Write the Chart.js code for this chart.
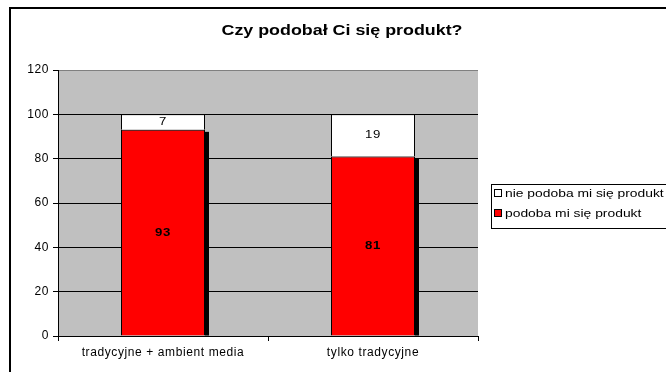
<!DOCTYPE html>
<html>
<head>
<meta charset="utf-8">
<script src="https://cdn.jsdelivr.net/npm/chart.js@4/dist/chart.umd.min.js"></script>
<style>
  html, body { margin: 0; padding: 0; background: #fff; }
  #wrap { width: 666px; height: 372px; position: relative; }
</style>
</head>
<body>
<div id="wrap"><canvas id="chart" width="666" height="372"></canvas></div>
<script>
// data
const categories = ['tradycyjne + ambient media', 'tylko tradycyjne'];
const likes = [93, 81];
const dislikes = [7, 19];
const yTicks = [0, 20, 40, 60, 80, 100, 120];
const titleText = 'Czy podobał Ci się produkt?';

const FONT = 'Arial, "Liberation Sans", sans-serif';

// Excel draws its text a bit wider, so spread the letters a little
const spacing = {
    id: 'spacing',
    beforeLayout(chart) { chart.ctx.letterSpacing = '0.6px'; },
    beforeDraw(chart) { chart.ctx.letterSpacing = '0.6px'; }
};

// text squeezed wider, like the Excel picture
function wideText(ctx, text, x, y, sx) {
    ctx.save();
    ctx.translate(x, y);
    ctx.scale(sx, 1);
    ctx.fillText(text, 0, 0);
    ctx.restore();
}

// frame, grey plot area, title, legend
const decor = {
    id: 'decor',
    beforeDraw(chart) {
        const { ctx, chartArea: a } = chart;
        ctx.save();
        ctx.fillStyle = '#fff';
        ctx.fillRect(0, 0, chart.width, chart.height);
        ctx.strokeStyle = '#000';
        ctx.lineWidth = 2;
        ctx.strokeRect(10, 8, 700, 400);
        ctx.fillStyle = '#c0c0c0';
        ctx.fillRect(a.left, a.top, a.right - a.left, a.bottom - a.top);
        ctx.restore();
    },
    afterDraw(chart) {
        const { ctx } = chart;
        ctx.save();
        ctx.fillStyle = '#000';
        ctx.letterSpacing = '0px';
        ctx.font = 'bold 15px ' + FONT;
        ctx.textAlign = 'center';
        ctx.textBaseline = 'middle';
        wideText(ctx, titleText, 342, 31, 1.19);

        // legend (reverse order, like Excel)
        ctx.strokeStyle = '#000';
        ctx.lineWidth = 1;
        ctx.strokeRect(491.5, 184.5, 200, 44);
        ctx.font = '11px ' + FONT;
        ctx.textAlign = 'left';
        const ds = chart.data.datasets.slice().reverse();
        ds.forEach((d, i) => {
            const y = 194 + i * 20;
            ctx.fillStyle = d.backgroundColor;
            ctx.fillRect(494.5, y - 4.5, 7, 7);
            ctx.strokeRect(494.5, y - 4.5, 7, 7);
            ctx.fillStyle = '#000';
            wideText(ctx, d.label, 505, y, 1.26);
        });
        ctx.restore();
    }
};

// black shadow to the right of the red bars
const shadow = {
    id: 'shadow',
    beforeDatasetsDraw(chart) {
        const { ctx } = chart;
        const meta = chart.getDatasetMeta(0);
        ctx.save();
        ctx.fillStyle = '#000';
        meta.data.forEach(bar => {
            const right = bar.x + bar.width / 2;
            ctx.fillRect(right, bar.y + 2, 4, bar.base - bar.y - 2);
        });
        ctx.restore();
    }
};

// value labels in the middle of each segment
const valueLabels = {
    id: 'valueLabels',
    afterDatasetsDraw(chart) {
        const { ctx } = chart;
        ctx.save();
        ctx.fillStyle = '#000';
        ctx.textAlign = 'center';
        ctx.textBaseline = 'middle';
        chart.data.datasets.forEach((d, di) => {
            ctx.font = (di === 0 ? 'bold ' : '') + '11px ' + FONT;
            chart.getDatasetMeta(di).data.forEach((bar, i) => {
                wideText(ctx, String(d.data[i]), bar.x, (bar.y + bar.base) / 2, 1.2);
            });
        });
        ctx.restore();
    }
};

new Chart(document.getElementById('chart'), {
    type: 'bar',
    data: {
        labels: categories,
        datasets: [
            {
                label: 'podoba mi się produkt',
                data: likes,
                backgroundColor: '#ff0000',
                borderColor: '#000',
                borderWidth: 1,
                barPercentage: 0.4,
                categoryPercentage: 1
            },
            {
                label: 'nie podoba mi się produkt',
                data: dislikes,
                backgroundColor: '#ffffff',
                borderColor: '#000',
                borderWidth: 1,
                barPercentage: 0.4,
                categoryPercentage: 1
            }
        ]
    },
    options: {
        responsive: false,
        animation: false,
        events: [],
        layout: { padding: { left: 8, top: 70, right: 188, bottom: 6 } },
        plugins: {
            legend: { display: false },
            title: { display: false },
            tooltip: { enabled: false }
        },
        scales: {
            x: {
                stacked: true,
                grid: {
                    offset: true,
                    drawOnChartArea: false,
                    tickLength: 5,
                    tickColor: '#000'
                },
                border: { color: '#000', width: 1 },
                ticks: { color: '#000', font: { family: FONT, size: 12 }, padding: 4, maxRotation: 0 },
                afterFit(scale) { scale.height = 30; }
            },
            y: {
                stacked: true,
                min: 0,
                max: 120,
                afterBuildTicks(scale) { scale.ticks = yTicks.map(v => ({ value: v })); },
                grid: {
                    color: ctx => ctx.tick && ctx.tick.value === 120 ? '#808080' : '#000',
                    tickColor: '#000',
                    tickLength: 5
                },
                border: { color: '#000', width: 1 },
                ticks: { color: '#000', font: { family: FONT, size: 12 }, padding: 4 },
                afterFit(scale) { scale.width = 50; }
            }
        }
    },
    plugins: [spacing, decor, shadow, valueLabels]
});
</script>
</body>
</html>
